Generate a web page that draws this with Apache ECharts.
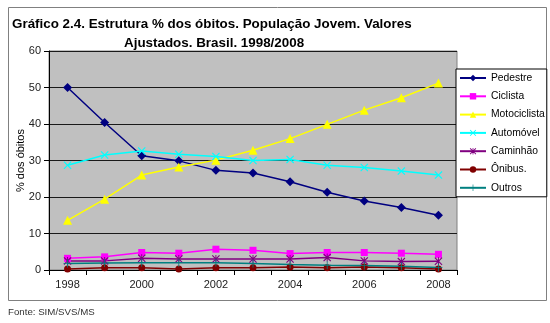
<!DOCTYPE html>
<html>
<head>
<meta charset="utf-8">
<script src="https://cdn.jsdelivr.net/npm/echarts@6/dist/echarts.min.js"></script>
<style>
html,body{margin:0;padding:0;background:#fff;}
#chart{width:550px;height:323px;}
</style>
</head>
<body>
<div id="chart"></div>
<script>
var years = ['1998','1999','2000','2001','2002','2003','2004','2005','2006','2007','2008'];
var yTicks = [0, 10, 20, 30, 40, 50, 60];
var pedestre     = [50.0, 40.4, 31.3, 29.9, 27.3, 26.6, 24.2, 21.3, 18.9, 17.1, 15.0];
var ciclista     = [3.2, 3.6, 4.8, 4.6, 5.7, 5.4, 4.5, 4.8, 4.8, 4.6, 4.3];
var motociclista = [13.6, 19.4, 26.0, 28.2, 30.1, 32.8, 36.0, 39.9, 43.8, 47.2, 51.2];
var automovel    = [28.7, 31.5, 32.6, 31.7, 31.1, 30.0, 30.3, 28.7, 28.1, 27.1, 26.0];
var caminhao     = [2.5, 2.5, 3.2, 3.0, 3.0, 3.0, 3.0, 3.4, 2.5, 2.3, 2.4];
var onibus       = [0.3, 0.6, 0.6, 0.3, 0.6, 0.6, 0.8, 0.6, 0.8, 0.6, 0.3];
var outros       = [1.8, 1.9, 2.0, 2.0, 2.0, 1.8, 1.5, 1.3, 1.2, 1.0, 0.7];

var seriesNames = ['Pedestre','Ciclista','Motociclista','Automóvel','Caminhão','Ônibus.','Outros'];

var X_PATH = 'path://M0,1 L1,0 L5,4 L9,0 L10,1 L6,5 L10,9 L9,10 L5,6 L1,10 L0,9 L4,5 Z';
var AST_PATH = 'path://M0,1 L1,0 L5,4 L9,0 L10,1 L6,5 L10,9 L9,10 L5,6 L1,10 L0,9 L4,5 Z M4.4,0 L5.6,0 L5.6,10 L4.4,10 Z';
var PLUS_PATH = 'path://M4.5,0 L5.5,0 L5.5,4.5 L10,4.5 L10,5.5 L5.5,5.5 L5.5,10 L4.5,10 L4.5,5.5 L0,5.5 L0,4.5 L4.5,4.5 Z';

function mk(name, data, color, symbol, size) {
  return {
    name: name, type: 'line', data: data,
    symbol: symbol, symbolSize: size,
    itemStyle: {color: color},
    lineStyle: {color: color, width: 1.5},
    emphasis: {disabled: true},
    animation: false
  };
}

var chart = echarts.init(document.getElementById('chart'), null, {renderer: 'canvas'});
chart.setOption({
  animation: false,
  title: [
    {text: 'Gráfico 2.4. Estrutura % dos óbitos. População Jovem. Valores', left: 12, top: 18, padding: 0,
     textStyle: {fontFamily: 'Liberation Sans', fontSize: 13.4, fontWeight: 'bold', color: '#000'}},
    {text: 'Ajustados. Brasil. 1998/2008', left: 124, top: 37, padding: 0,
     textStyle: {fontFamily: 'Liberation Sans', fontSize: 13.4, fontWeight: 'bold', color: '#000'}}
  ],
  graphic: [
    {type: 'rect', z: -10, silent: true, shape: {x: 8.5, y: 7.5, width: 538, height: 293},
     style: {fill: '#fff', stroke: '#808080', lineWidth: 1}},
    {type: 'text', left: 8, top: 307, silent: true,
     style: {text: 'Fonte: SIM/SVS/MS', fontFamily: 'Liberation Sans', fontSize: 9.7, fill: '#333'}}
  ],
  legend: {
    orient: 'vertical', left: 456, top: 69,
    padding: [3, 2, 3, 3],
    itemWidth: 26, itemHeight: 8, itemGap: 6.3,
    backgroundColor: '#fff', borderColor: '#000', borderWidth: 1,
    textStyle: {fontFamily: 'Liberation Sans', fontSize: 10.3, color: '#000', lineHeight: 12},
    data: seriesNames,
    selectedMode: false
  },
  grid: {left: 49, top: 51, right: 93, bottom: 53, show: true,
         backgroundColor: '#C0C0C0', borderColor: '#808080', borderWidth: 1},
  xAxis: {
    type: 'category', data: years, boundaryGap: true,
    axisLine: {lineStyle: {color: '#000', width: 1}},
    axisTick: {show: true, interval: 0, length: 5, lineStyle: {color: '#000'}},
    axisLabel: {interval: 1, margin: 9, fontFamily: 'Liberation Sans', fontSize: 11, color: '#222'},
    splitLine: {show: false}
  },
  yAxis: {
    type: 'value', min: yTicks[0], max: yTicks[yTicks.length - 1], interval: 10,
    name: '% dos óbitos', nameLocation: 'middle', nameGap: 23, nameMoveOverlap: false,
    nameTextStyle: {fontFamily: 'Liberation Sans', fontSize: 11, color: '#000'},
    axisLine: {show: true, lineStyle: {color: '#000', width: 1}},
    axisTick: {show: true, length: 5, lineStyle: {color: '#000'}},
    axisLabel: {margin: 8, fontFamily: 'Liberation Sans', fontSize: 11, color: '#222'},
    splitLine: {show: true, lineStyle: {color: '#1a1a1a', width: 1}}
  },
  series: [
    mk(seriesNames[0], pedestre, '#000080', 'diamond', 9),
    mk(seriesNames[1], ciclista, '#FF00FF', 'rect', 7),
    mk(seriesNames[2], motociclista, '#FFFF00', 'triangle', 9),
    mk(seriesNames[3], automovel, '#00FFFF', X_PATH, 8),
    mk(seriesNames[4], caminhao, '#800080', AST_PATH, 8),
    mk(seriesNames[5], onibus, '#800000', 'circle', 7),
    mk(seriesNames[6], outros, '#008080', PLUS_PATH, 8)
  ]
});
</script>
</body>
</html>
